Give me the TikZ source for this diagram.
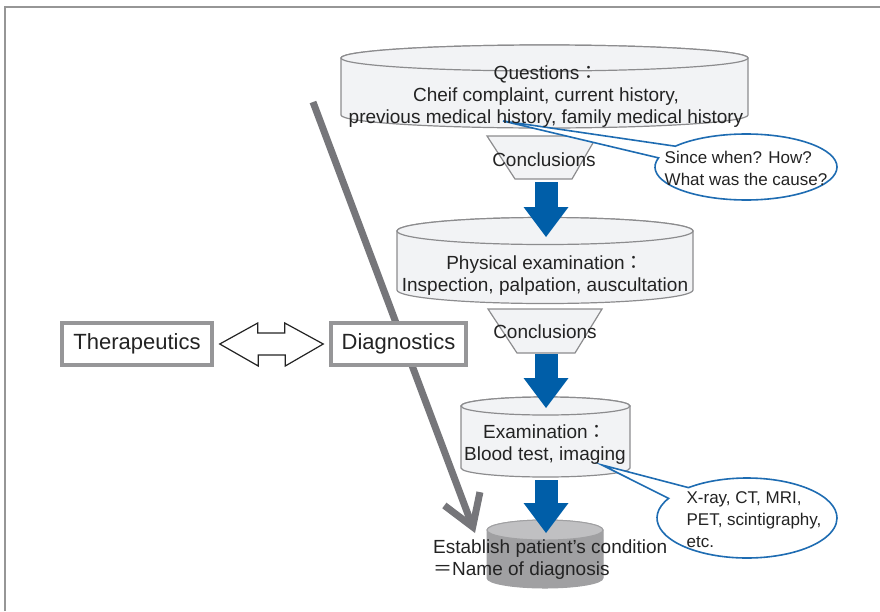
\documentclass[tikz,border=0pt]{standalone}
\usepackage{fontspec}
\setmainfont{Liberation Sans}
\newfontfamily\jpfont{Noto Sans CJK JP}
\usetikzlibrary{arrows.meta, calc, shapes.callouts}

\definecolor{framegray}{RGB}{150,150,150}
\definecolor{boxgray}{RGB}{150,150,152}
\definecolor{drumfill}{RGB}{242,243,245}
\definecolor{drumline}{RGB}{140,140,142}
\definecolor{darkdrum}{RGB}{160,160,162}
\definecolor{darkdrumtop}{RGB}{192,192,194}
\definecolor{arrowblue}{RGB}{0,94,168}
\definecolor{pathgray}{RGB}{118,118,122}
\definecolor{calloutblue}{RGB}{30,108,178}
\definecolor{textgray}{RGB}{35,35,35}

% drum: left x, right x, top y, bottom y, y radius, body style, top style
\newcommand{\drum}[7]{%
  \pgfmathsetmacro{\drumcx}{(#1+#2)/2}%
  \pgfmathsetmacro{\drumrx}{(#2-#1)/2}%
  \filldraw[#6] (#1,#3) -- (#1,#4)
    arc[start angle = 180, end angle = 360, x radius = \drumrx pt, y radius = #5pt]
    -- (#2,#3)
    arc[start angle = 0, end angle = 180, x radius = \drumrx pt, y radius = #5pt]
    -- cycle;
  \filldraw[#7] (\drumcx,#3) ellipse[x radius = \drumrx pt, y radius = #5pt];
}

\begin{document}
\begin{tikzpicture}[
    x = 1pt, y = -1pt,
    stagetext/.style = {align = center, inner sep = 0pt, text = textgray,
      font = \fontsize{19}{22}\selectfont},
    boxed/.style = {draw = boxgray, line width = 3.5pt, fill = white,
      minimum height = 42pt, inner sep = 0pt, text = textgray,
      font = \fontsize{22}{26}\selectfont},
    bubble/.style = {ellipse callout, draw = calloutblue, line width = 1.6pt,
      fill = white, inner sep = 0pt},
    bubbletext/.style = {align = left, inner sep = 0pt, text = textgray,
      font = \fontsize{17}{22}\selectfont},
    funnel/.style = {draw = drumline, line width = 1.2pt, fill = drumfill},
    drumlight/.style = {draw = drumline, line width = 1.2pt, fill = drumfill},
    drumdark/.style = {draw = darkdrum, line width = 1pt, fill = darkdrum},
    drumdarktop/.style = {draw = darkdrum, line width = 1pt, fill = darkdrumtop},
    flow/.style = {draw = arrowblue, line width = 23pt,
      -{Triangle[length = 30pt, width = 45pt, line width = 0pt]}},
    route/.style = {draw = pathgray, line width = 7pt,
      -{Straight Barb[length = 30pt, width = 38pt]}},
    openarrow/.style = {draw = textgray, line width = 1.2pt, fill = white},
    ]

    \useasboundingbox (0,0) rectangle (880,611);
    \draw [draw = framegray, line width = 1.5pt] (5,611) -- (5,7) -- (880,7);

    \coordinate (routestart) at (313,102);
    \coordinate (routeend) at (475,533);
    \draw [route] (routestart) -- (routeend);

    \drum{341}{748}{58}{115}{13}{drumlight}{drumlight}
    \filldraw [funnel] (487,136) -- (597,136) -- (572,179) -- (515,179) -- cycle;
    \drum{397}{693}{231}{290}{13.5}{drumlight}{drumlight}
    \filldraw [funnel] (488,309) -- (602,309) -- (575,353) -- (517,353) -- cycle;
    \drum{461}{630}{406}{468}{9}{drumlight}{drumlight}
    \drum{487}{603}{530}{578}{10}{drumdark}{drumdarktop}

    \coordinate (questiontip) at (503,121);
    \coordinate (imagingtip) at (602,465);
    \node at (746,167) [bubble, name = whenbubble,
      minimum width = 182pt, minimum height = 66pt,
      callout absolute pointer = {(questiontip)},
      callout pointer arc = 23] {};
    \node at (747,518) [bubble, name = imagingbubble,
      minimum width = 180pt, minimum height = 80pt,
      callout absolute pointer = {(imagingtip)},
      callout pointer arc = 20] {};

    \coordinate (flow1top) at (546,182);
    \coordinate (flow1tip) at (546,237);
    \coordinate (flow2top) at (546,354);
    \coordinate (flow2tip) at (546,408);
    \coordinate (flow3top) at (546,480);
    \coordinate (flow3tip) at (546,533);
    \draw [flow] (flow1top) -- (flow1tip);
    \draw [flow] (flow2top) -- (flow2tip);
    \draw [flow] (flow3top) -- (flow3tip);

    \node at (546,97) [stagetext, name = questions]
    {Questions{\jpfont ：}\\Cheif complaint, current history,\\previous medical history, family medical history};
    \node at (544,160) [stagetext, name = conclusions1] {Conclusions};
    \node at (545,276) [stagetext, name = physical]
    {Physical examination{\jpfont ：}\\Inspection, palpation, auscultation};
    \node at (545,332) [stagetext, name = conclusions2] {Conclusions};
    \node at (545,445) [stagetext, name = examination]
    {Examination{\jpfont ：}\\Blood test, imaging};
    \node at (433,560) [stagetext, align = left, anchor = west, name = diagnosis]
    {Establish patient’s condition\\{\jpfont ＝}Name of diagnosis};

    \node at (746,168) [bubbletext, name = whentext]
    {Since when? How?\\What was the cause?};
    \node at (754,520) [bubbletext, name = imagingtext]
    {X-ray, CT, MRI,\\PET, scintigraphy,\\etc.};

    \node at (137,344) [boxed, minimum width = 150pt, name = therapeutics] {Therapeutics};
    \node at (398.5,344) [boxed, minimum width = 135pt, name = diagnostics] {Diagnostics};

    \draw [openarrow] ($(therapeutics.east) + (6,0)$) -- ++(38,-21) -- ++(0,10)
    -- ++(27,0) -- ++(0,-10) -- ($(diagnostics.west) + (-6,0)$)
    -- ++(-38,22) -- ++(0,-11) -- ++(-27,0) -- ++(0,11) -- cycle;

  \end{tikzpicture}
\end{document}
